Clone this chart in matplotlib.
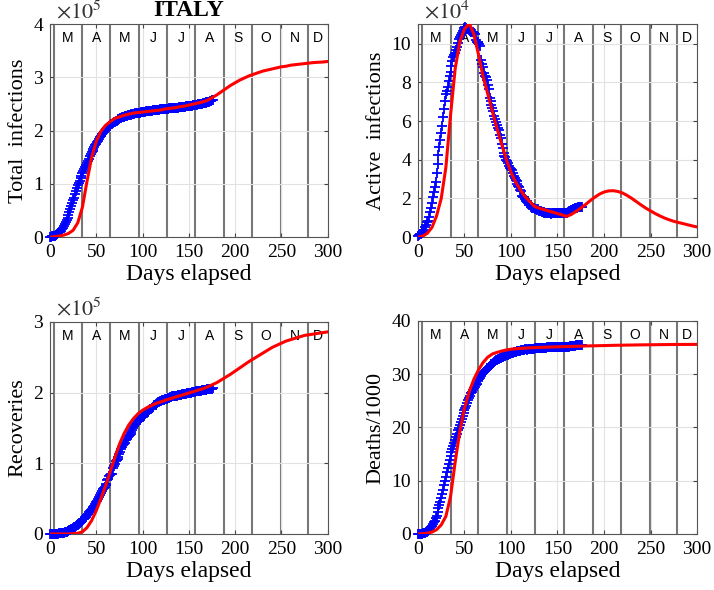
import numpy as np
import matplotlib.pyplot as plt

plt.rcParams['font.family'] = 'Liberation Serif'
plt.rcParams['mathtext.fontset'] = 'stix'

# observed daily values (thousands of people), day 0 onwards
total_obs = [0.9, 1.1,
    1.7, 2.0, 2.5, 3.1, 3.9, 4.6, 5.9, 7.4, 9.2, 10.1, 12.5, 15.1, 17.7, 21.2, 24.7, 28.0,
    31.5, 35.7, 41.0, 47.0, 53.6, 59.1, 63.9, 69.2, 74.4, 80.5, 86.5, 92.5, 97.7, 101.7, 105.8,
    110.6, 115.2, 119.8, 124.6, 128.9, 132.5, 135.6, 139.4, 143.6, 147.6, 152.3, 156.4, 159.5,
    162.5, 165.2, 168.9, 172.4, 175.9, 179.0, 181.2, 184.0, 187.3, 190.0, 193.0, 195.4, 197.7,
    199.4, 201.5, 203.6, 205.5,
    207.4, 209.3, 210.7, 211.9, 213.0, 214.5, 215.9, 217.2, 218.3, 219.1, 219.8, 221.2, 222.1,
    223.1, 223.9, 224.8, 225.4, 225.9, 226.7, 227.4, 228.0, 228.7, 229.3, 229.9, 230.2, 230.6,
    231.1, 231.7, 232.2, 232.7, 233.0,
    233.2, 233.5, 233.8, 234.0, 234.5, 234.8, 235.0, 235.3, 235.6, 235.8, 236.1, 236.3, 236.7,
    237.0, 237.3, 237.5, 237.8, 238.0, 238.2, 238.3, 238.5, 238.7, 238.8, 239.4, 239.7, 240.0,
    240.1, 240.3, 240.4, 240.6,
    240.8, 241.0, 241.2, 241.4, 241.6, 241.8, 242.0, 242.1, 242.4, 242.6, 242.8, 243.1, 243.2,
    243.3, 243.5, 243.7, 244.0, 244.2, 244.4, 244.6, 244.8, 245.0, 245.3, 245.6, 245.9, 246.1,
    246.3, 246.5, 246.8, 247.2, 247.5,
    247.8, 248.1, 248.2, 248.4, 248.8, 249.2, 249.8, 250.1, 250.6, 250.8, 251.2, 251.7, 252.2,
    252.8, 253.4, 253.9, 254.2, 254.6, 255.3, 256.1, 257.1, 258.1]

active_obs = [0.8, 1.0,
    1.6, 1.8, 2.3, 2.7, 3.3, 3.9, 5.1, 6.4, 8.0, 8.5, 10.6, 12.8, 15.0, 17.8, 20.6, 23.1, 26.1,
    28.7, 33.2, 37.9, 42.7, 46.6, 50.4, 54.0, 57.5, 62.0, 66.4, 70.1, 73.9, 75.5, 77.6,
    80.6, 83.0, 85.4, 88.3, 91.2, 93.2, 94.1, 95.3, 96.9, 98.3, 100.3, 102.3, 103.6, 104.3,
    105.4, 106.6, 107.0, 107.8, 108.3, 108.2, 107.7, 107.7, 106.8, 106.5, 105.8, 106.1, 105.8,
    105.2, 104.7, 101.6,
    100.9, 100.2, 100.7, 100.0, 98.5, 91.5, 89.6, 88.0, 84.8, 83.3, 82.5, 81.3, 78.5, 76.4,
    72.1, 70.2, 68.4, 66.6, 65.1, 62.8, 61.0, 59.3, 57.8, 56.6, 55.3, 52.9, 51.0, 48.0, 46.2,
    43.7, 42.1,
    41.4, 39.9, 39.3, 38.4, 37.0, 35.9, 35.3, 34.7, 32.9, 31.7, 30.6, 29.7, 29.0, 27.5, 26.3,
    25.9, 24.6, 23.9, 21.5, 21.0, 20.6, 19.6, 18.7, 18.3, 17.6, 16.7, 16.5, 16.8, 15.6, 15.3,
    15.1, 14.9, 14.6, 14.6, 14.2, 14.4, 13.6, 13.5, 13.3, 13.2, 13.2, 12.9, 12.7, 12.6, 12.5,
    12.5, 12.4, 12.4, 12.3, 12.2, 12.4, 12.4, 12.6, 12.6, 12.6, 12.6, 12.6, 12.6, 12.5, 12.5,
    12.4,
    12.5, 12.5, 12.5, 12.5, 12.6, 12.7, 12.9, 13.3, 13.4, 13.7, 14.0, 14.1, 14.4, 14.7, 14.9,
    15.1, 15.3, 15.4, 15.5, 15.6, 15.7, 15.8]

recovered_obs = [0.05, 0.05,
    0.1, 0.1, 0.2, 0.3, 0.4, 0.5, 0.6, 0.6, 0.7, 1.0, 1.0, 1.3, 1.4, 2.0, 2.3, 2.7, 2.9, 4.0,
    4.4, 5.1, 6.1, 7.0, 7.4, 8.3, 9.4, 10.4, 11.0, 12.4, 13.0, 14.6, 15.7,
    16.8, 18.3, 19.8, 21.0, 21.8, 22.8, 24.4, 26.5, 28.5, 30.5, 32.5, 34.2, 35.4, 37.1, 38.1,
    40.2, 42.7, 44.9, 47.1, 48.9, 51.6, 54.5, 57.6, 60.5, 63.1, 64.9, 66.6, 68.9, 71.3, 75.9,
    78.2, 81.7, 82.9, 84.7, 85.2, 93.2, 96.3, 99.0, 103.0, 105.2, 106.6, 109.0, 112.5, 115.3,
    120.2, 122.8, 125.2, 127.3, 129.4, 132.3, 134.6, 136.7, 138.8, 140.5, 142.0, 144.7, 147.1,
    150.6, 152.8, 155.6, 157.5,
    158.4, 160.1, 160.9, 161.9, 163.8, 165.1, 165.8, 166.6, 168.6, 169.9, 171.3, 172.2, 173.1,
    174.9, 176.4, 177.0, 178.5, 179.5, 181.9, 182.5, 182.9, 184.6, 185.9, 186.1, 186.7, 187.6,
    188.6, 188.9, 189.2, 190.2,
    190.7, 191.1, 191.5, 191.9, 192.1, 192.2, 193.6, 194.0, 194.6, 194.9, 195.1, 195.4, 195.6,
    195.9, 196.0, 196.2, 196.5, 196.8, 197.2, 197.4, 197.6, 197.8, 198.3, 198.6, 198.8, 199.0,
    199.0, 199.1, 199.8, 200.2, 200.5,
    200.8, 201.0, 201.3, 201.6, 201.9, 202.2, 202.7, 202.9, 203.0, 203.3, 203.6, 203.8, 204.0,
    204.1, 204.4, 204.5, 204.7, 205.0, 205.2, 205.4, 205.7, 205.9]

deaths_obs = [0.02, 0.03,
    0.03, 0.05, 0.08, 0.11, 0.15, 0.2, 0.23, 0.37, 0.46, 0.63, 0.83, 1.02, 1.27, 1.44, 1.81,
    2.16, 2.5, 2.98, 3.41, 4.03, 4.83, 5.48, 6.08, 6.82, 7.5, 8.17, 9.13, 10.02, 10.78, 11.59,
    12.43,
    13.16, 13.92, 14.68, 15.36, 15.89, 16.52, 17.13, 17.67, 18.28, 18.85, 19.47, 19.9, 20.47,
    21.07, 21.65, 22.17, 22.75, 23.23, 23.66, 24.11, 24.65, 25.09, 25.55, 25.97, 26.38, 26.64,
    26.98, 27.36, 27.68, 27.97,
    28.24, 28.71, 28.88, 29.08, 29.32, 29.68, 29.96, 30.2, 30.4, 30.56, 30.74, 30.91, 31.11,
    31.37, 31.61, 31.76, 31.91, 32.01, 32.17, 32.33, 32.49, 32.62, 32.74, 32.79, 32.88, 32.96,
    33.07, 33.14, 33.23, 33.34, 33.42,
    33.48, 33.53, 33.6, 33.69, 33.77, 33.85, 33.9, 33.96, 34.04, 34.11, 34.17, 34.22, 34.3,
    34.35, 34.37, 34.41, 34.45, 34.51, 34.56, 34.61, 34.63, 34.66, 34.68, 34.64, 34.68, 34.71,
    34.72, 34.74, 34.74, 34.77,
    34.79, 34.82, 34.83, 34.85, 34.86, 34.87, 34.9, 34.91, 34.93, 34.94, 34.95, 34.95, 34.97,
    34.98, 35.0, 35.02, 35.03, 35.04, 35.05, 35.06, 35.07, 35.08, 35.09, 35.1, 35.1, 35.11,
    35.11, 35.12, 35.13, 35.13, 35.14,
    35.15, 35.15, 35.17, 35.17, 35.18, 35.19, 35.19, 35.2, 35.21, 35.21, 35.22, 35.23, 35.23,
    35.23, 35.39, 35.4, 35.4, 35.41, 35.41, 35.42, 35.43, 35.43]

# model fits every 5 days (thousands of people)
model_days = list(range(0, 301, 5))
total_fit = [0, 1, 2, 4, 7, 13, 27, 56, 105, 150, 180, 199, 210, 217, 223, 226, 229, 231, 233,
    234, 235, 236, 237, 238, 239, 241, 242, 243, 245, 246, 248, 250, 252, 254, 257, 262, 267,
    273, 279, 285, 290, 295, 299, 303, 306, 309, 312, 314, 316, 318, 320, 321, 323, 324, 325,
    326, 327, 328, 328.5, 329, 330]
active_fit = [0, 0.5, 2, 5, 11, 20, 36, 63, 87, 101, 107.5, 110.5, 105, 94.5, 83, 74, 65, 56,
    48, 40, 33.5, 28.5, 24.5, 21, 18.5, 16, 15, 14.3, 13.6, 12.9, 12.2, 11.5, 10.7, 11.8, 13.3,
    15, 16.8, 18.8, 20.6, 22.2, 23.3, 23.9, 24, 23.6, 22.8, 21.5, 20, 18.3, 16.6, 15, 13.6,
    12.2, 11, 9.9, 9, 8.2, 7.6, 7, 6.4, 5.8, 5.3]
recovered_fit = [0, 0, 0, 0, 0, 0.3, 1, 3, 9, 19, 33, 50, 68, 88, 108, 127, 142, 154, 163, 170,
    175, 179, 182, 185, 187, 189.5, 191.5, 193.5, 195.5, 197.5, 199.5, 201.5, 203.5, 205.5,
    208, 211, 214, 218, 222, 226, 230.5, 235, 239.5, 244, 248, 252, 256, 260, 264, 267, 270,
    273, 275, 277, 279, 281, 282, 283, 284, 285, 286]
deaths_fit = [0, 0.05, 0.15, 0.35, 0.8, 1.7, 3.3, 7.0, 13.5, 19.3, 23.6, 26.7, 29.0, 30.8,
    32.2, 33.2, 33.8, 34.1, 34.35, 34.55, 34.7, 34.78, 34.85, 34.9, 34.95, 35.0, 35.03, 35.06,
    35.09, 35.12, 35.15, 35.17, 35.2, 35.22, 35.25, 35.27, 35.3, 35.32, 35.34, 35.36, 35.38,
    35.4, 35.42, 35.44, 35.45, 35.47, 35.48, 35.5, 35.51, 35.52, 35.53, 35.54, 35.55, 35.56,
    35.57, 35.58, 35.58, 35.59, 35.59, 35.6, 35.6]

month_starts = [4, 35, 65, 96, 126, 157, 188, 218, 249, 279]
month_names = ['M', 'A', 'M', 'J', 'J', 'A', 'S', 'O', 'N', 'D']

obs_days = np.arange(len(total_obs))

fig = plt.figure(figsize=(7.14, 5.9), dpi=100)

panels = [
    # obs, fit, divisor, ylim, yticks, ylabel, exponent, rect
    (total_obs, total_fit, 100, 4, [0, 1, 2, 3, 4], 'Total  infections', 5,
     [0.070, 0.598, 0.389, 0.361]),
    (active_obs, active_fit, 10, 11, [0, 2, 4, 6, 8, 10], 'Active  infections', 4,
     [0.5854, 0.598, 0.3908, 0.361]),
    (recovered_obs, recovered_fit, 100, 3, [0, 1, 2, 3], 'Recoveries', 5,
     [0.070, 0.095, 0.389, 0.3593]),
    (deaths_obs, deaths_fit, 1, 40, [0, 10, 20, 30, 40], 'Deaths/1000', None,
     [0.5854, 0.095, 0.3908, 0.361]),
]

for obs, fit, div, ytop, yticks, ylabel, expo, rect in panels:
    ax = fig.add_axes(rect)
    ax.set_xlim(0, 300)
    ax.set_ylim(0, ytop)
    ax.set_xticks(range(0, 301, 50))
    ax.set_yticks(yticks)
    ax.grid(True, color='#e2e2e2', lw=0.8, zorder=0)
    for d in month_starts:
        ax.axvline(d, color='#777777', lw=1.5, zorder=1)
    edges = month_starts + [300]
    for i, name in enumerate(month_names):
        ax.text((edges[i] + edges[i + 1]) / 2, 0.935, name, transform=ax.get_xaxis_transform(),
                ha='center', va='center', fontsize=10, family='Liberation Sans', zorder=2)
    ax.plot(obs_days, np.array(obs) / div, '+', color='#0000ff', ms=7, mew=1.3,
            zorder=3, clip_on=False)
    ax.plot(model_days, np.array(fit) / div, '-', color='#ff0000', lw=2.2, zorder=4)
    ax.set_xlabel('Days elapsed', fontsize=17, labelpad=2)
    ax.set_ylabel(ylabel, fontsize=16, labelpad=4)
    ax.tick_params(direction='in', length=3, top=True, right=True, labelsize=14,
                   color='#444444', pad=5)
    for s in ax.spines.values():
        s.set_color('#555555')
        s.set_linewidth(0.8)
    if expo is not None:
        ax.text(0.02, 1.005, r'$\times10^{%d}$' % expo, transform=ax.transAxes,
                fontsize=16, ha='left', va='bottom', color='#333333')
    if ylabel.startswith('Total'):
        ax.set_title('ITALY', fontsize=17, fontweight='bold', pad=6)

fig.savefig('out.png', dpi=100)
